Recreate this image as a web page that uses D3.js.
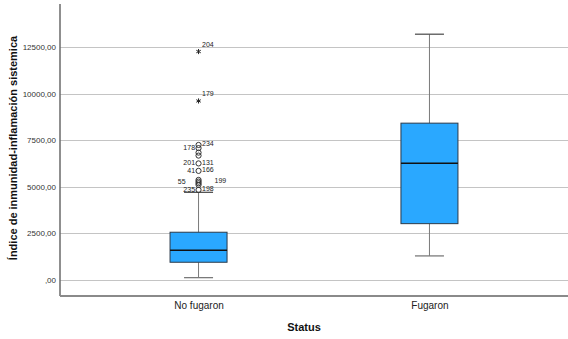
<!DOCTYPE html>
<html>
<head>
<meta charset="utf-8">
<script src="https://cdn.jsdelivr.net/npm/d3@7"></script>
<style>
  body { margin: 0; background: #fff; }
  text { font-family: "Liberation Sans", Arial, sans-serif; }
</style>
</head>
<body>
<div id="chart"></div>
<script>
// data
var categories = ["No fugaron", "Fugaron"];
var q1 = [950, 3020];
var medians = [1590, 6260];
var q3 = [2560, 8410];
var whiskLow = [125, 1290];
var whiskHigh = [4700, 13180];
var yTicks = [0, 2500, 5000, 7500, 10000, 12500];

// outliers (all in "No fugaron")
var outlierValues = [12250, 9600, 7240, 7070, 6830, 6670, 6250, 5850, 5365, 5275, 5190, 5100, 4830];
var outlierKinds  = ["star", "star", "o", "o", "o", "o", "o", "o", "o", "o", "o", "o", "o"];
var labelsLeft    = ["", "", "", "178", "", "", "201", "41", "", "55", "", "", "235"];
var labelsRight   = ["204", "179", "234", "", "", "", "131", "166", "", "199", "", "", "198"];

var W = 568, H = 339;
var margin = {top: 4, right: 0, bottom: 43, left: 60};

var svg = d3.select("#chart").append("svg")
  .attr("width", W)
  .attr("height", H);

var y = d3.scaleLinear()
  .domain([-860, 14800])
  .range([H - margin.bottom, margin.top]);

var x = d3.scalePoint()
  .domain(categories)
  .range([margin.left, W - margin.right])
  .padding(0.6);

// gridlines
svg.append("g").selectAll("line")
  .data(yTicks)
  .enter().append("line")
  .attr("x1", margin.left)
  .attr("x2", W)
  .attr("y1", function(d) { return Math.round(y(d)) + 0.5; })
  .attr("y2", function(d) { return Math.round(y(d)) + 0.5; })
  .attr("stroke", "#c4c4c4")
  .attr("stroke-width", 1);

// y axis
var fmt = function(d) { return d === 0 ? ",00" : d + ",00"; };
var yAxis = svg.append("g")
  .attr("transform", "translate(" + margin.left + ",0)")
  .call(d3.axisLeft(y).tickValues(yTicks).tickFormat(fmt).tickSize(0).tickPadding(4));
yAxis.select(".domain").remove();
yAxis.selectAll("text")
  .attr("font-size", "8px")
  .attr("fill", "#333")
  .style("font-family", "Liberation Sans, Arial, sans-serif");

svg.append("line")
  .attr("x1", margin.left).attr("x2", margin.left)
  .attr("y1", margin.top).attr("y2", H - margin.bottom)
  .attr("stroke", "#6a6a6a").attr("stroke-width", 1.5);

svg.append("line")
  .attr("x1", margin.left).attr("x2", W)
  .attr("y1", H - margin.bottom).attr("y2", H - margin.bottom)
  .attr("stroke", "#8a8a8a").attr("stroke-width", 2);

// x axis labels
var xAxis = svg.append("g")
  .attr("transform", "translate(0," + (H - margin.bottom) + ")")
  .call(d3.axisBottom(x).tickSize(0).tickPadding(6));
xAxis.select(".domain").remove();
xAxis.selectAll("text")
  .attr("font-size", "10px")
  .attr("fill", "#222")
  .style("font-family", "Liberation Sans, Arial, sans-serif");

// boxes
var boxW = 57, capW = 29;
var boxes = svg.append("g").selectAll("g")
  .data(categories)
  .enter().append("g");

boxes.append("line")
  .attr("x1", function(d) { return x(d); })
  .attr("x2", function(d) { return x(d); })
  .attr("y1", function(d, i) { return y(whiskLow[i]); })
  .attr("y2", function(d, i) { return y(q1[i]); })
  .attr("stroke", "#7a7a7a");
boxes.append("line")
  .attr("x1", function(d) { return x(d); })
  .attr("x2", function(d) { return x(d); })
  .attr("y1", function(d, i) { return y(whiskHigh[i]); })
  .attr("y2", function(d, i) { return y(q3[i]); })
  .attr("stroke", "#7a7a7a");
boxes.append("line")
  .attr("x1", function(d) { return x(d) - capW / 2; })
  .attr("x2", function(d) { return x(d) + capW / 2; })
  .attr("y1", function(d, i) { return y(whiskLow[i]); })
  .attr("y2", function(d, i) { return y(whiskLow[i]); })
  .attr("stroke", "#7a7a7a").attr("stroke-width", 1.3);
boxes.append("line")
  .attr("x1", function(d) { return x(d) - capW / 2; })
  .attr("x2", function(d) { return x(d) + capW / 2; })
  .attr("y1", function(d, i) { return y(whiskHigh[i]); })
  .attr("y2", function(d, i) { return y(whiskHigh[i]); })
  .attr("stroke", "#555").attr("stroke-width", 1.3);

boxes.append("rect")
  .attr("x", function(d) { return x(d) - boxW / 2; })
  .attr("width", boxW)
  .attr("y", function(d, i) { return y(q3[i]); })
  .attr("height", function(d, i) { return y(q1[i]) - y(q3[i]); })
  .attr("fill", "#2aa8ff")
  .attr("stroke", "#2b3a4a")
  .attr("stroke-width", 1);

boxes.append("line")
  .attr("x1", function(d) { return x(d) - boxW / 2; })
  .attr("x2", function(d) { return x(d) + boxW / 2; })
  .attr("y1", function(d, i) { return y(medians[i]); })
  .attr("y2", function(d, i) { return y(medians[i]); })
  .attr("stroke", "#111").attr("stroke-width", 1.6);

// outliers
var ox = x(categories[0]);
var outs = svg.append("g").selectAll("g")
  .data(outlierValues)
  .enter().append("g")
  .attr("transform", function(d) { return "translate(" + ox + "," + y(d) + ")"; });

outs.filter(function(d, i) { return outlierKinds[i] === "o"; })
  .append("circle")
  .attr("r", 2.6)
  .attr("fill", "none")
  .attr("stroke", "#333")
  .attr("stroke-width", 1);

outs.filter(function(d, i) { return outlierKinds[i] === "star"; })
  .append("path")
  .attr("d", d3.symbol(d3.symbolAsterisk, 18))
  .attr("fill", "none")
  .attr("stroke", "#222")
  .attr("stroke-width", 1);

outs.append("text")
  .attr("x", function(d, i) { return labelsRight[i] === "199" ? 16 : 3.5; })
  .attr("y", function(d, i) { return outlierKinds[i] === "star" ? -5 : 1.5; })
  .attr("font-size", "7px")
  .attr("fill", "#222")
  .text(function(d, i) { return labelsRight[i]; });

outs.append("text")
  .attr("x", function(d, i) { return labelsLeft[i] === "55" ? -13 : -3.5; })
  .attr("y", 2)
  .attr("text-anchor", "end")
  .attr("font-size", "7px")
  .attr("fill", "#222")
  .text(function(d, i) { return labelsLeft[i]; });

// axis titles
svg.append("text")
  .attr("x", (margin.left + W) / 2 - 10)
  .attr("y", 331)
  .attr("text-anchor", "middle")
  .attr("font-size", "11px")
  .attr("font-weight", "bold")
  .attr("fill", "#111")
  .text("Status");

svg.append("text")
  .attr("transform", "translate(17," + 148 + ") rotate(-90)")
  .attr("text-anchor", "middle")
  .attr("font-size", "11px")
  .attr("font-weight", "bold")
  .attr("fill", "#111")
  .text("Índice de inmunidad-inflamación sistemica");
</script>
</body>
</html>
